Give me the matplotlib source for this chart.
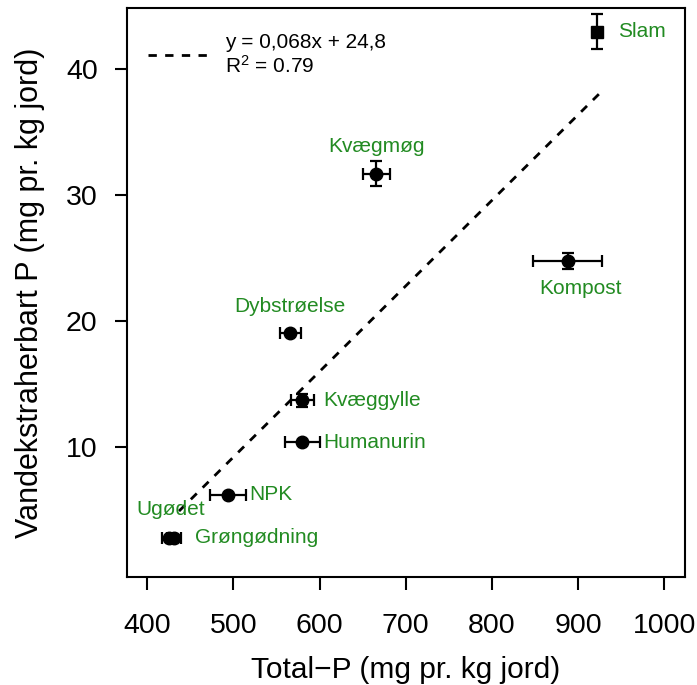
import matplotlib
matplotlib.use("Agg")
import matplotlib.pyplot as plt
import numpy as np

plt.rcParams['font.family'] = ['Liberation Sans', 'DejaVu Sans']

# data
labels = ['Slam', 'Kvægmøg', 'Kompost', 'Dybstrøelse', 'Kvæggylle',
          'Humanurin', 'NPK', 'Ugødet', 'Grøngødning']
total_p = np.array([922, 666, 888, 566, 580, 580, 494, 425, 431])
total_p_err = np.array([0, 16, 40, 12, 13, 20, 21, 8, 8])
water_p = np.array([43.0, 31.7, 24.8, 19.05, 13.7, 10.4, 6.2, 2.8, 2.8])
water_p_err = np.array([1.4, 1.0, 0.65, 0, 0.5, 0, 0, 0, 0])
markers = ['s', 'o', 'o', 'o', 'o', 'o', 'o', 'o', 'o']
label_pos = ['right', 'above', 'below', 'above', 'right',
             'right', 'right', 'above', 'right']

fit_slope = 0.068
fit_intercept = -24.8
fit_range = np.array([437, 930])

green = '#228B22'

fig = plt.figure(figsize=(6.97, 6.85), dpi=100)
ax = fig.add_axes([0.182, 0.158, 0.801, 0.830])

for i in range(len(labels)):
    ax.errorbar(total_p[i], water_p[i],
                xerr=total_p_err[i] if total_p_err[i] > 0 else None,
                yerr=water_p_err[i] if water_p_err[i] > 0 else None,
                fmt=markers[i], color='black', markersize=9 if markers[i] == 'o' else 8,
                elinewidth=1.6, capsize=4, capthick=1.6, zorder=3)

offsets = {'right': (21, 0, 'left', 'center'),
           'above': (0, 27, 'center', 'center'),
           'below': (0, -28, 'center', 'center')}
for i, lab in enumerate(labels):
    dx, dy, ha, va = offsets[label_pos[i]]
    if lab == 'Kompost':
        dx = 13
    if lab == 'Ugødet':
        dx, dy = 2, 28
    ax.annotate(lab, (total_p[i], water_p[i]), xytext=(dx, dy),
                textcoords='offset pixels', ha=ha, va=va,
                color=green, fontsize=15)

line, = ax.plot(fit_range, fit_slope * fit_range + fit_intercept,
                ls=(0, (3, 3)), color='black', lw=2)

ax.legend([line], ['y = 0,068x + 24,8\n$\\mathregular{R^2}$ = 0.79'],
          loc='upper left', bbox_to_anchor=(0.005, 0.99), frameon=False,
          fontsize=15, handlelength=3.0, handletextpad=0.7,
          borderaxespad=0.5, labelspacing=0.2)

ax.set_xlim(376.5, 1024)
ax.set_ylim(-0.3, 44.85)
ax.set_xticks([400, 500, 600, 700, 800, 900, 1000])
ax.set_yticks([10, 20, 30, 40])
ax.tick_params(axis='both', direction='out', length=9, width=1.5,
               labelsize=20.5)
ax.tick_params(axis='x', pad=17)
ax.tick_params(axis='y', pad=12)
for s in ax.spines.values():
    s.set_linewidth(1.5)

ax.set_xlabel('Total\u2212P (mg pr. kg jord)', fontsize=21.5, labelpad=12)
ax.set_ylabel('Vandekstraherbart P (mg pr. kg jord)', fontsize=22, labelpad=15)

fig.savefig('out.png', dpi=100)
